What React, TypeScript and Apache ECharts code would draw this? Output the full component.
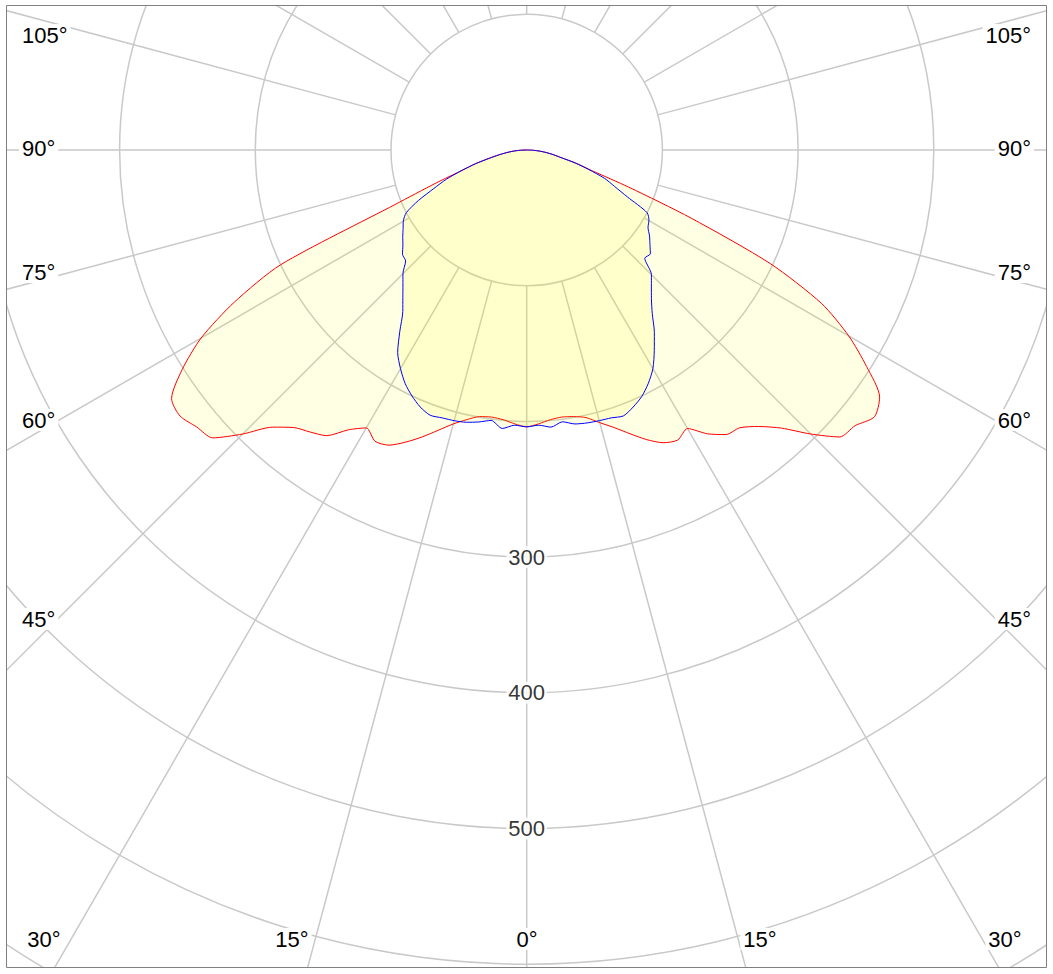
import { useEffect, useRef } from 'react';
import * as echarts from 'echarts';

// gamma angles (deg from nadir), same for every half-plane
const angles = [
  0, 2.5, 5, 7.5, 10, 12.5, 15, 17.5, 20, 22.5, 25, 27.5, 30, 32.5, 35, 37.5, 40, 42.5, 45,
  47.5, 50, 52.5, 55, 57.5, 60, 62.5, 65, 67.5, 70, 72.5, 75, 77.5, 80, 82.5, 85, 87.5, 90,
];

// red curve, right half (C0) and left half (C180)
const redRight = [
  204, 202, 199.5, 198.5, 199.5, 202, 208, 214.5, 222.5, 231, 238, 241, 237, 248, 256, 258, 266, 278, 296,
  313, 316, 323, 317.5, 297, 274, 245, 198, 131, 80, 50, 38, 26, 20, 15, 10, 5, 0,
];
const redLeft = [
  204, 202, 199.5, 198.5, 199.5, 203.5, 209, 216.5, 225, 233, 240, 242, 236.5, 244.5, 257, 262, 267, 277, 296,
  314, 317.5, 322, 319.5, 301, 277, 243, 200, 105, 71, 50, 39, 29, 21, 15, 10, 5, 0,
];

// blue curve, right half (C90) and left half (C270)
const blueRight = [
  204, 203, 205, 202, 205, 206, 206.5, 207, 208.5, 205, 200.5, 194, 186, 175, 164, 152, 143, 136, 130,
  118, 119, 114.5, 110.5, 106, 104, 100, 82, 70, 61, 48, 37, 26, 20, 14.5, 9.5, 5, 0,
];
const blueLeft = [
  204, 203, 206, 201, 203.5, 205.5, 206.5, 207, 208, 205, 200, 194, 186, 177, 163, 150, 142, 135, 129,
  121, 119.5, 115, 111.5, 108, 105, 100, 88, 74, 63, 50, 39, 28, 21, 15, 10, 5, 0,
];

const radiusLabels = [300, 400, 500];
const sideLabels = ['105°', '90°', '75°', '60°', '45°'];
const bottomLabels = ['30°', '15°', '0°', '15°', '30°'];

const CENTER = [526.7, 150];
const R_MAX = 800;
const PX_PER_UNIT = 1.357;
const GRID = '#c9c9c9';
const FONT = 'Liberation Sans, Arial, sans-serif';

// right half is drawn at 360 - gamma, left half at gamma (0 points down, clockwise)
function toPolar(right: number[], left: number[]) {
  const pts: number[][] = [];
  for (let i = angles.length - 1; i >= 0; i--) pts.push([right[i], 360 - angles[i]]);
  for (let i = 0; i < angles.length; i++) pts.push([left[i], angles[i]]);
  return pts;
}

function label(text: string, x: number, y: number, align: string) {
  return {
    type: 'text',
    z: 100,
    style: {
      text,
      x,
      y,
      fill: '#000',
      fontSize: 22,
      fontFamily: FONT,
      textAlign: align,
      textVerticalAlign: 'middle',
      backgroundColor: '#fff',
      padding: [0, 3],
    },
  };
}

export default function App() {
  const chartRef = useRef(null);

  useEffect(() => {
    const chart = echarts.init(chartRef.current, null, { renderer: 'svg' });
    const outer = R_MAX * PX_PER_UNIT;

    const sideY = [35, 148, 272, 420, 619];
    const bottomX = [44, 292, 527, 760, 1005];
    const graphics: any[] = [];
    sideLabels.forEach((t, i) => {
      graphics.push(label(t, 19, sideY[i], 'left'));
      graphics.push(label(t, 1034, sideY[i], 'right'));
    });
    bottomLabels.forEach((t, i) => graphics.push(label(t, bottomX[i], 939, 'center')));

    // white margins outside the frame, then the frame itself
    const white = { fill: '#fff' };
    graphics.push(
      { type: 'rect', z: 90, shape: { x: 0, y: 0, width: 1053, height: 5 }, style: white },
      { type: 'rect', z: 90, shape: { x: 0, y: 968, width: 1053, height: 6 }, style: white },
      { type: 'rect', z: 90, shape: { x: 0, y: 0, width: 6, height: 974 }, style: white },
      { type: 'rect', z: 90, shape: { x: 1047, y: 0, width: 6, height: 974 }, style: white },
      {
        type: 'rect',
        z: 110,
        shape: { x: 6.5, y: 5.5, width: 1040, height: 962 },
        style: { fill: 'none', stroke: '#808080', lineWidth: 1 },
      },
    );

    const hiddenAxis = {
      axisLine: { show: false },
      axisTick: { show: false },
      axisLabel: { show: false },
      splitLine: { show: false },
    };

    const option = {
      animation: false,
      backgroundColor: '#fff',
      polar: [
        { center: CENTER, radius: [100 * PX_PER_UNIT, outer] },
        { center: CENTER, radius: [0, outer] },
      ],
      radiusAxis: [
        {
          polarIndex: 0,
          type: 'value',
          min: 100,
          max: R_MAX,
          interval: 100,
          axisLine: { show: false },
          axisTick: { show: false },
          axisLabel: { show: false },
          splitLine: { show: true, lineStyle: { color: GRID, width: 1.5 } },
        },
        { polarIndex: 1, type: 'value', min: 0, max: R_MAX, ...hiddenAxis },
      ],
      angleAxis: [
        {
          polarIndex: 0,
          type: 'value',
          min: 0,
          max: 360,
          interval: 15,
          startAngle: 270,
          clockwise: true,
          axisLine: { show: false },
          axisTick: { show: false },
          axisLabel: { show: false },
          splitLine: { show: true, lineStyle: { color: GRID, width: 1.5 } },
        },
        { polarIndex: 1, type: 'value', min: 0, max: 360, startAngle: 270, clockwise: true, ...hiddenAxis },
      ],
      series: [
        {
          name: 'C0-C180',
          type: 'line',
          coordinateSystem: 'polar',
          polarIndex: 1,
          data: toPolar(redRight, redLeft),
          symbol: 'none',
          smooth: 0.25,
          lineStyle: { color: '#ff0000', width: 1 },
          areaStyle: { color: 'rgba(255,255,0,0.15)' },
          z: 3,
        },
        {
          name: 'C90-C270',
          type: 'line',
          coordinateSystem: 'polar',
          polarIndex: 1,
          data: toPolar(blueRight, blueLeft),
          symbol: 'none',
          smooth: 0.25,
          lineStyle: { color: '#0000ff', width: 1 },
          areaStyle: { color: 'rgba(255,255,0,0.15)' },
          z: 4,
        },
        {
          type: 'scatter',
          coordinateSystem: 'polar',
          polarIndex: 1,
          data: radiusLabels.map((v) => [v, 0]),
          symbolSize: 1,
          itemStyle: { color: 'rgba(0,0,0,0)' },
          label: {
            show: true,
            position: 'inside',
            formatter: (p: any) => String(p.value[0]),
            color: '#000',
            fontSize: 22,
            fontFamily: FONT,
            backgroundColor: '#fff',
            padding: [0, 2],
          },
          z: 5,
        },
      ],
      graphic: graphics,
    };

    chart.setOption(option);
    return () => {
      chart.dispose();
    };
  }, []);

  return (
    <div
      ref={chartRef}
      style={{ position: 'absolute', left: 0, top: 0, width: '1053px', height: '974px' }}
    />
  );
}
